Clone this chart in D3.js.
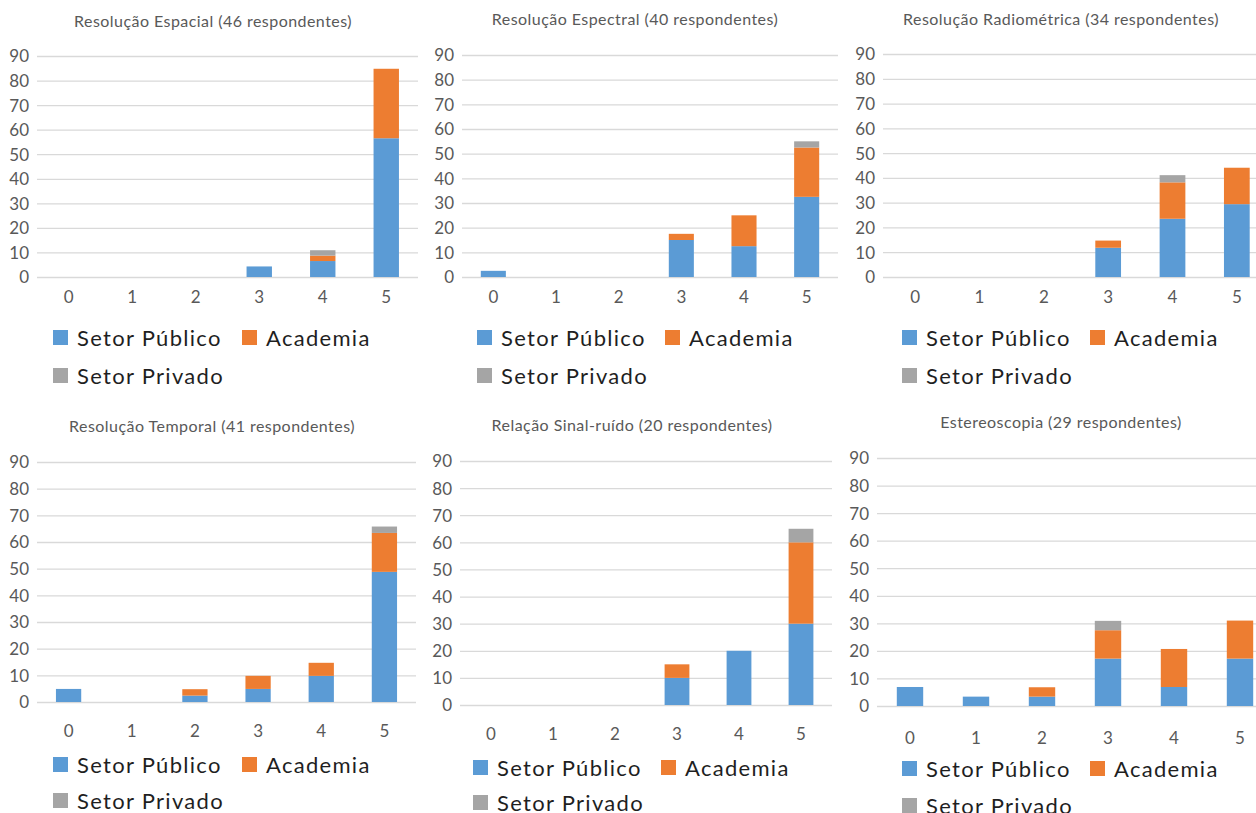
<!DOCTYPE html>
<html>
<head>
<meta charset="utf-8">
<script src="https://cdn.jsdelivr.net/npm/d3@7"></script>
<style>
  html, body { margin: 0; padding: 0; background: #fff; }
  svg { display: block; }
  .title { font-family: Lato, "Open Sans", sans-serif; font-size: 16px; letter-spacing: 0.45px; fill: #595959; }
  .axis text { font-family: Lato, "Open Sans", sans-serif; font-size: 17px; fill: #595959; }
  .legend text { font-family: Lato, "Open Sans", sans-serif; font-size: 22px; letter-spacing: 1.3px; fill: #1f1f1f; }
</style>
</head>
<body>
<svg id="chart" width="1256" height="813"></svg>
<script>
// Rating scale and y ticks shared by all six charts
const categories = ["0", "1", "2", "3", "4", "5"];
const yTicks = [0, 10, 20, 30, 40, 50, 60, 70, 80, 90];
const seriesNames = ["Setor Público", "Academia", "Setor Privado"];
const seriesColors = ["#5B9BD5", "#ED7D31", "#A5A5A5"];

const titles = [
  "Resolução Espacial (46 respondentes)",
  "Resolução Espectral (40 respondentes)",
  "Resolução Radiométrica (34 respondentes)",
  "Resolução Temporal (41 respondentes)",
  "Relação Sinal-ruído (20 respondentes)",
  "Estereoscopia (29 respondentes)"
];

// Percentage of respondents per rating, by sector
const espacialPublico   = [0, 0, 0, 4.3, 6.5, 56.5];
const espacialAcademia  = [0, 0, 0, 0, 2.2, 28.3];
const espacialPrivado   = [0, 0, 0, 0, 2.2, 0];

const espectralPublico  = [2.5, 0, 0, 15, 12.5, 32.5];
const espectralAcademia = [0, 0, 0, 2.5, 12.5, 20];
const espectralPrivado  = [0, 0, 0, 0, 0, 2.5];

const radiometricaPublico  = [0, 0, 0, 11.8, 23.5, 29.4];
const radiometricaAcademia = [0, 0, 0, 2.9, 14.7, 14.7];
const radiometricaPrivado  = [0, 0, 0, 0, 2.9, 0];

const temporalPublico  = [4.9, 0, 2.4, 4.9, 9.8, 48.8];
const temporalAcademia = [0, 0, 2.4, 4.9, 4.9, 14.6];
const temporalPrivado  = [0, 0, 0, 0, 0, 2.4];

const sinalRuidoPublico  = [0, 0, 0, 10, 20, 30];
const sinalRuidoAcademia = [0, 0, 0, 5, 0, 30];
const sinalRuidoPrivado  = [0, 0, 0, 0, 0, 5];

const estereoPublico  = [6.9, 3.4, 3.4, 17.2, 6.9, 17.2];
const estereoAcademia = [0, 0, 3.4, 10.3, 13.8, 13.8];
const estereoPrivado  = [0, 0, 0, 3.4, 0, 0];

const panelSeries = [
  [espacialPublico, espacialAcademia, espacialPrivado],
  [espectralPublico, espectralAcademia, espectralPrivado],
  [radiometricaPublico, radiometricaAcademia, radiometricaPrivado],
  [temporalPublico, temporalAcademia, temporalPrivado],
  [sinalRuidoPublico, sinalRuidoAcademia, sinalRuidoPrivado],
  [estereoPublico, estereoAcademia, estereoPrivado]
];

// Placement of each small chart on the page
const layout = [
  { x0: 37,  x1: 418,  yTop: 56,  yBase: 277, titleX: 213,  titleY: 27,  labelY: 303, legX: 53,  legX2: 242,  legY: 338, legY2: 376 },
  { x0: 462, x1: 838,  yTop: 55,  yBase: 277, titleX: 635,  titleY: 25,  labelY: 303, legX: 477, legX2: 665,  legY: 338, legY2: 376 },
  { x0: 883, x1: 1269, yTop: 54,  yBase: 277, titleX: 1061, titleY: 25,  labelY: 303, legX: 902, legX2: 1090, legY: 338, legY2: 376 },
  { x0: 37,  x1: 416,  yTop: 462, yBase: 702, titleX: 212,  titleY: 432, labelY: 737, legX: 53,  legX2: 242,  legY: 765, legY2: 801 },
  { x0: 460, x1: 832,  yTop: 461, yBase: 705, titleX: 632,  titleY: 431, labelY: 740, legX: 473, legX2: 661,  legY: 768, legY2: 803 },
  { x0: 877, x1: 1273, yTop: 458, yBase: 706, titleX: 1061, titleY: 428, labelY: 744, legX: 902, legX2: 1090, legY: 769, legY2: 806 }
];

const svg = d3.select("#chart");

layout.forEach((L, i) => {
  const g = svg.append("g");
  const gridEnd = Math.min(L.x1, 1256);

  const x = d3.scaleBand().domain(categories).range([L.x0, L.x1]).paddingInner(0.6).paddingOuter(0.3);
  const y = d3.scaleLinear().domain([0, 90]).range([L.yBase, L.yTop]);

  // horizontal gridlines with value labels
  const yAxis = g.append("g")
    .attr("class", "axis")
    .attr("transform", `translate(${L.x0},0)`)
    .call(d3.axisLeft(y).tickValues(yTicks).tickSize(-(gridEnd - L.x0)).tickPadding(8).tickFormat(d3.format("d")));
  yAxis.select(".domain").remove();
  yAxis.selectAll(".tick line").attr("stroke", "#D9D9D9").attr("stroke-width", 1.3);
  yAxis.selectAll(".tick text").attr("dy", "0.35em");

  // category labels
  const xAxis = g.append("g")
    .attr("class", "axis")
    .attr("transform", `translate(0,${L.yBase})`)
    .call(d3.axisBottom(x).tickSize(0).tickPadding(L.labelY - L.yBase - 12));
  xAxis.select(".domain").remove();

  // stacked bars
  const rows = categories.map((c, k) => {
    const r = { cat: c };
    seriesNames.forEach((s, j) => { r[s] = panelSeries[i][j][k]; });
    return r;
  });
  const stacked = d3.stack().keys(seriesNames)(rows);
  g.append("g").selectAll("g")
    .data(stacked)
    .join("g")
    .attr("fill", (d, j) => seriesColors[j])
    .selectAll("rect")
    .data(d => d.filter(p => p[1] - p[0] > 0))
    .join("rect")
    .attr("x", p => x(p.data.cat))
    .attr("width", x.bandwidth())
    .attr("y", p => y(p[1]))
    .attr("height", p => y(p[0]) - y(p[1]));

  // title
  g.append("text")
    .attr("class", "title")
    .attr("x", L.titleX)
    .attr("y", L.titleY)
    .attr("text-anchor", "middle")
    .text(titles[i]);

  // legend
  const legendItems = [
    { name: seriesNames[0], color: seriesColors[0], lx: L.legX,  ly: L.legY },
    { name: seriesNames[1], color: seriesColors[1], lx: L.legX2, ly: L.legY },
    { name: seriesNames[2], color: seriesColors[2], lx: L.legX,  ly: L.legY2 }
  ];
  const leg = g.append("g").attr("class", "legend");
  const item = leg.selectAll("g").data(legendItems).join("g")
    .attr("transform", d => `translate(${d.lx},${d.ly})`);
  item.append("rect")
    .attr("x", 0).attr("y", -8).attr("width", 15).attr("height", 15)
    .attr("fill", d => d.color);
  item.append("text")
    .attr("x", 24).attr("y", 0).attr("dy", "0.35em")
    .text(d => d.name);
});
</script>
</body>
</html>
